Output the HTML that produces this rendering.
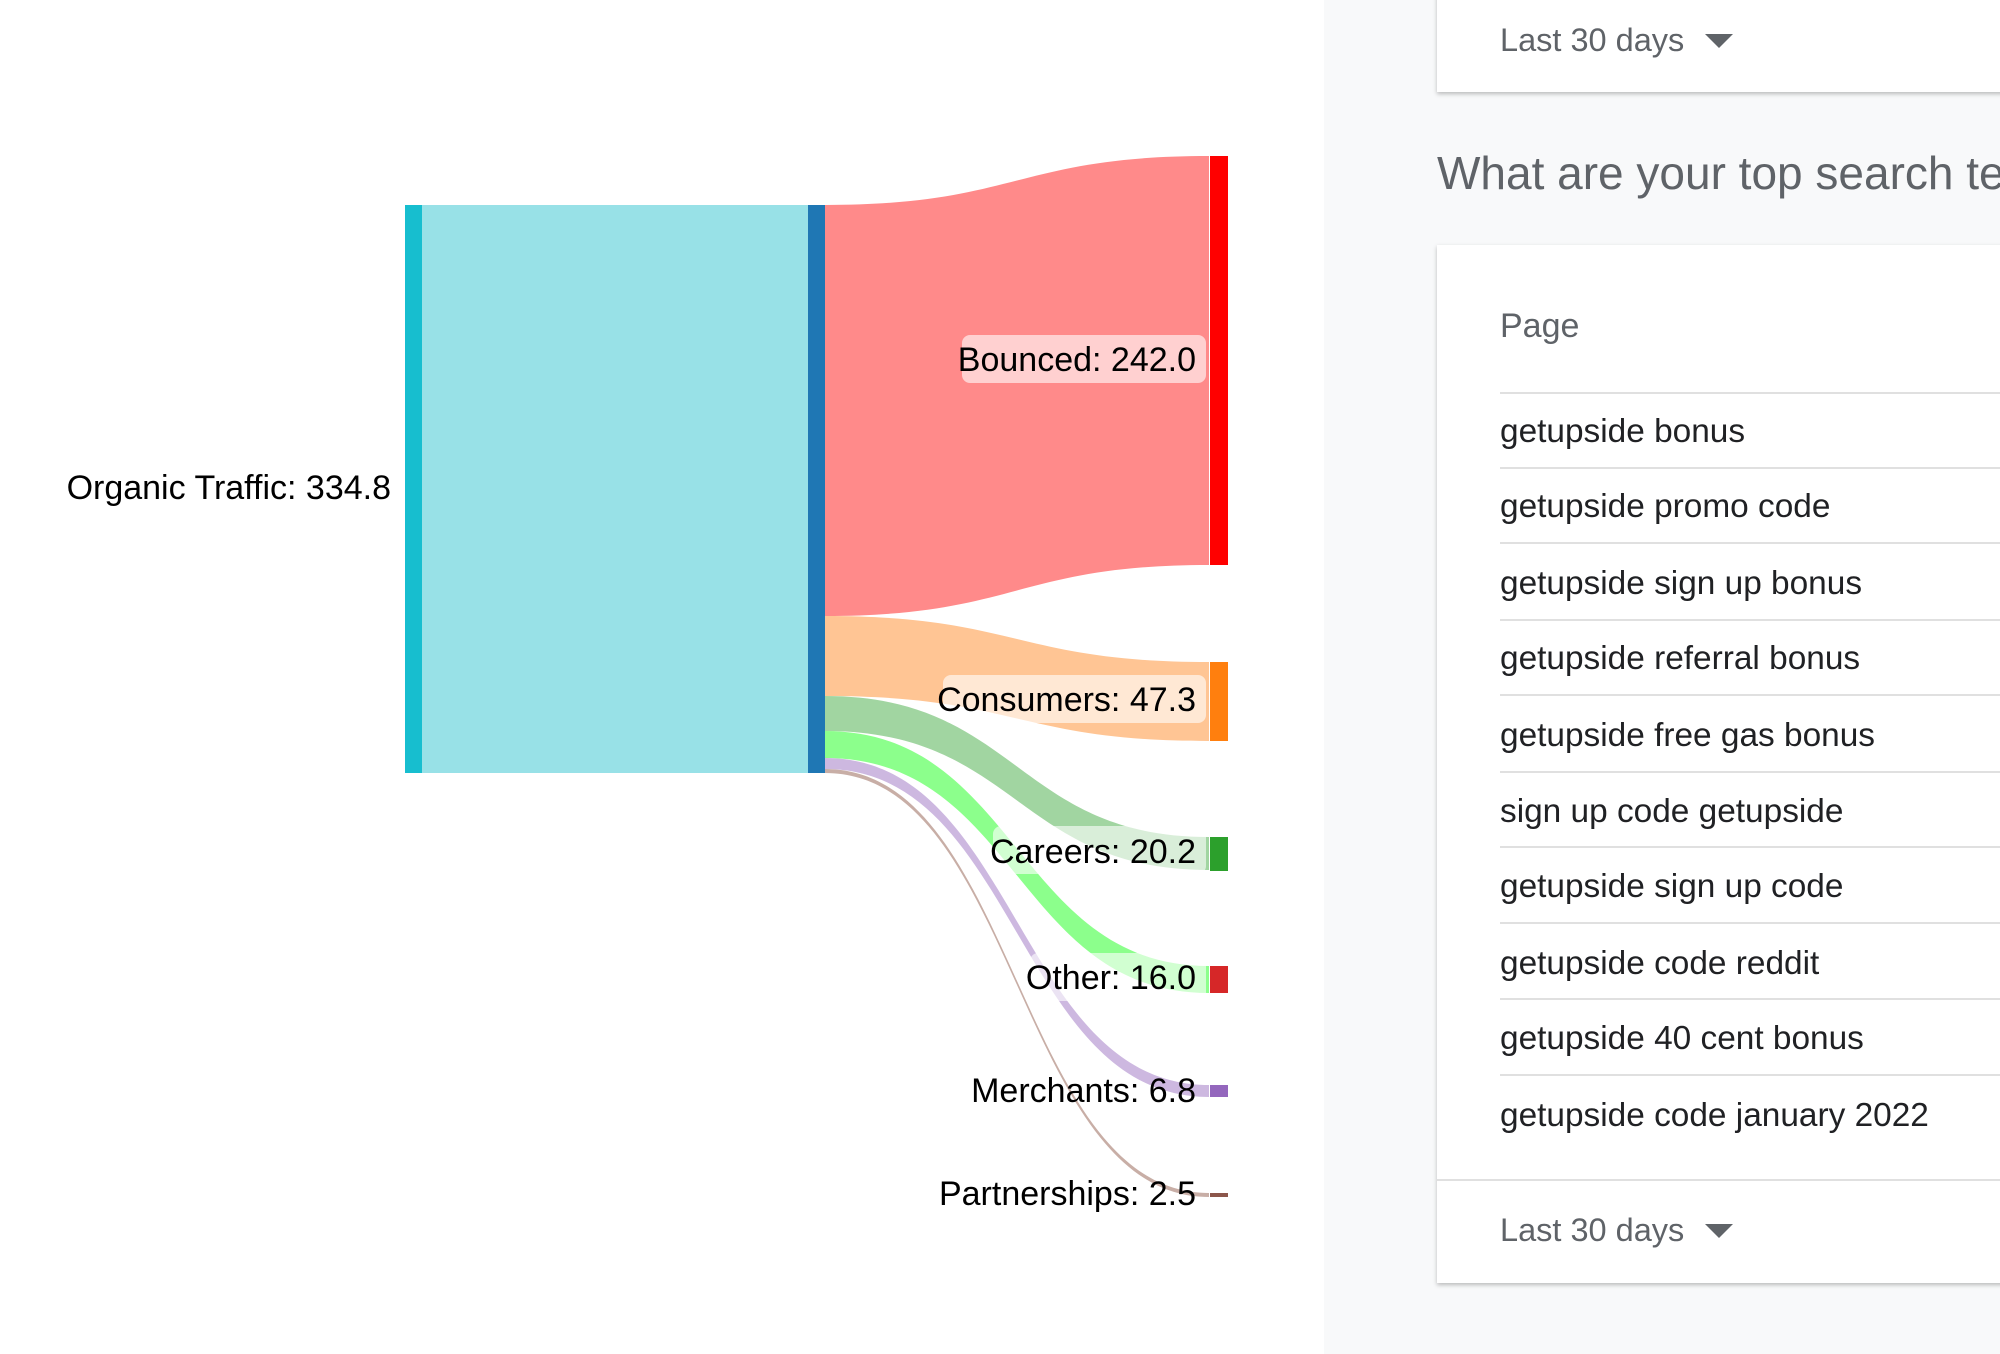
<!DOCTYPE html>
<html><head><meta charset="utf-8"><style>
html,body{margin:0;padding:0;width:2000px;height:1354px;overflow:hidden;background:#fff;font-family:"Liberation Sans",sans-serif}
</style></head><body>
<svg width="2000" height="1354" xmlns="http://www.w3.org/2000/svg" style="position:absolute;left:0;top:0">
<rect x="1324" y="0" width="676" height="1354" fill="#f8f9fa"/>
<rect x="1437" y="-10" width="600" height="102" fill="#fff" style="filter:drop-shadow(0 2px 2px rgba(0,0,0,.25))"/>
<rect x="1437" y="245" width="600" height="1038" fill="#fff" style="filter:drop-shadow(0 2px 2px rgba(0,0,0,.25))"/>
<g font-size="32.5" fill="#5f6368">
<text x="1500" y="51">Last 30 days</text>
<text x="1500" y="1241">Last 30 days</text>
</g>
<text x="1500" y="337" font-size="34" fill="#5f6368">Page</text>
<path d="M1705 34 L1733 34 L1719 48 Z" fill="#5f6368"/>
<path d="M1705 1224 L1733 1224 L1719 1238 Z" fill="#5f6368"/>
<text x="1437" y="189" font-size="46" fill="#5f6368">What are your top search terms</text>
<g stroke="#e0e0e0" stroke-width="2">
<line x1="1500" y1="393" x2="2000" y2="393"/>
<line x1="1500" y1="468" x2="2000" y2="468"/>
<line x1="1500" y1="543" x2="2000" y2="543"/>
<line x1="1500" y1="620" x2="2000" y2="620"/>
<line x1="1500" y1="695" x2="2000" y2="695"/>
<line x1="1500" y1="772" x2="2000" y2="772"/>
<line x1="1500" y1="847" x2="2000" y2="847"/>
<line x1="1500" y1="923" x2="2000" y2="923"/>
<line x1="1500" y1="999" x2="2000" y2="999"/>
<line x1="1500" y1="1075" x2="2000" y2="1075"/>
<line x1="1437" y1="1180" x2="2000" y2="1180"/>
</g>
<g font-size="33.4" fill="#202124">
<text x="1500" y="442">getupside bonus</text>
<text x="1500" y="517">getupside promo code</text>
<text x="1500" y="594">getupside sign up bonus</text>
<text x="1500" y="669">getupside referral bonus</text>
<text x="1500" y="746">getupside free gas bonus</text>
<text x="1500" y="822">sign up code getupside</text>
<text x="1500" y="897">getupside sign up code</text>
<text x="1500" y="974">getupside code reddit</text>
<text x="1500" y="1049">getupside 40 cent bonus</text>
<text x="1500" y="1126">getupside code january 2022</text>
</g>
<rect x="422" y="205" width="386" height="568" fill="#98e1e7"/>
<rect x="405" y="205" width="17" height="568" fill="#17becf"/>
<rect x="808" y="205" width="17" height="568" fill="#1f77b4"/>
<path d="M825 205 C1017 205 1017 156 1209 156 L1209 565 C1017 565 1017 616 825 616 Z" fill="#ff8a8a"/>
<path d="M825 616 C1017 616 1017 662 1209 662 L1209 741 C1017 741 1017 696 825 696 Z" fill="#ffc594"/>
<path d="M825 696 C1017 696 1017 837 1209 837 L1209 870 C1017 870 1017 731 825 731 Z" fill="#a1d5a1"/>
<path d="M825 731 C1017 731 1017 966 1209 966 L1209 993 C1017 993 1017 758 825 758 Z" fill="#8cff8c"/>
<path d="M825 758 C1017 758 1017 1085 1209 1085 L1209 1097 C1017 1097 1017 769 825 769 Z" fill="#cdb8e0"/>
<path d="M825 769 C1017 769 1017 1193 1209 1193 L1209 1197 C1017 1197 1017 773 825 773 Z" fill="#c8aea6"/>
<rect x="1210" y="156" width="18" height="409" fill="#ff0000"/>
<rect x="1210" y="662" width="18" height="79" fill="#ff7f0e"/>
<rect x="1210" y="837" width="18" height="34" fill="#2ca02c"/>
<rect x="1210" y="966" width="18" height="27" fill="#d62728"/>
<rect x="1210" y="1085" width="18" height="12" fill="#9467bd"/>
<rect x="1210" y="1193" width="18" height="4" fill="#8c564b"/>
<g fill="#fff" fill-opacity="0.6">
<rect x="962" y="335" width="244" height="48" rx="8"/>
<rect x="943" y="675" width="263" height="48" rx="8"/>
<rect x="993" y="826" width="213" height="48" rx="8"/>
<rect x="1030" y="953" width="176" height="48" rx="8"/>
</g>
<g font-size="34" fill="#000" text-anchor="end">
<text x="391" y="499">Organic Traffic: 334.8</text>
<text x="1196" y="371">Bounced: 242.0</text>
<text x="1196" y="711">Consumers: 47.3</text>
<text x="1196" y="863">Careers: 20.2</text>
<text x="1196" y="989">Other: 16.0</text>
<text x="1196" y="1102">Merchants: 6.8</text>
<text x="1196" y="1205">Partnerships: 2.5</text>
</g>
</svg>
</body></html>
